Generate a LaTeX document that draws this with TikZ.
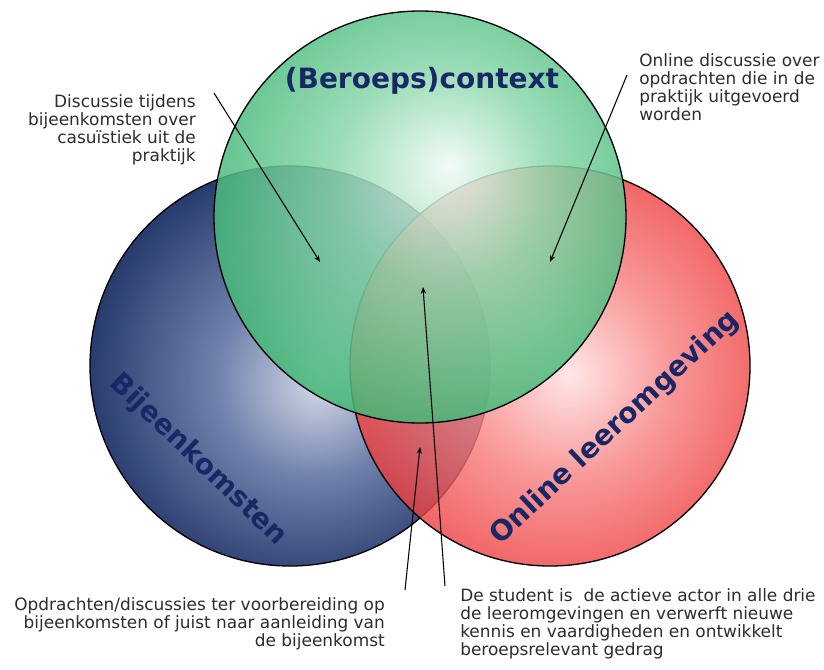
\documentclass[tikz,border=0pt]{standalone}
\usepackage{fontspec}
\setmainfont{DejaVu Sans}
\usetikzlibrary{arrows.meta}
\definecolor{labelblue}{RGB}{24,40,102}
\definecolor{notegray}{RGB}{45,45,45}
\definecolor{contextedge}{RGB}{58,180,112}
\definecolor{contextmid}{RGB}{140,216,172}
\definecolor{contexthi}{RGB}{240,251,244}
\definecolor{meetingsedge}{RGB}{34,54,104}
\definecolor{meetingsmid}{RGB}{112,130,172}
\definecolor{meetingshi}{RGB}{212,216,230}
\definecolor{onlineedge}{RGB}{236,50,50}
\definecolor{onlinemid}{RGB}{248,128,128}
\definecolor{onlinehi}{RGB}{255,224,224}
\pgfdeclareradialshading{contextball}{\pgfpoint{3.6bp}{6.3bp}}{color(0bp)=(contexthi); color(13bp)=(contextmid); color(30bp)=(contextedge); color(50bp)=(contextedge)}
\pgfdeclareradialshading{meetingsball}{\pgfpoint{3.7bp}{-2.4bp}}{color(0bp)=(meetingshi); color(12bp)=(meetingsmid); color(28bp)=(meetingsedge); color(50bp)=(meetingsedge)}
\pgfdeclareradialshading{onlineball}{\pgfpoint{2.5bp}{-1.1bp}}{color(0bp)=(onlinehi); color(13bp)=(onlinemid); color(28bp)=(onlineedge); color(50bp)=(onlineedge)}

\begin{document}
\begin{tikzpicture}[x=0.75pt, y=-0.75pt,
		venn/.style={circle, draw=black, line width=1pt, inner sep=0pt, shade},
		circlelabel/.style={font=\fontsize{21pt}{25pt}\selectfont\bfseries, text=labelblue, inner sep=0pt},
		note/.style={font=\fontsize{12.7pt}{13.7pt}\selectfont, text=notegray, inner sep=0pt},
		pointer/.style={draw=black, line width=0.8pt, -{Stealth[length=5pt, width=4pt]}}]
		\useasboundingbox (0,0) rectangle (824,669);
		\fill[white] (0,0) rectangle (824,669);
		\node[venn, minimum size=300pt, shading=meetingsball] (Meetings) at (290,366) {};
		\node[venn, minimum size=300pt, shading=onlineball, fill opacity=0.8] (Online) at (550,366) {};
		\node[venn, minimum size=309pt, shading=contextball, fill opacity=0.85] (Context) at (420,217) {};
		\node[circlelabel] (ContextLabel) at (422,81) {(Beroeps)context};
		\node[circlelabel, rotate=-44] (MeetingsLabel) at (198,460) {Bijeenkomsten};
		\node[circlelabel, rotate=43] (OnlineLabel) at (615,428) {Online leeromgeving};
		\node[note, align=right, anchor=north east] (NoteContextMeetings) at (196,94) {
			Discussie tijdens\\bijeenkomsten over\\casuïstiek uit de\\praktijk
		};
		\node[note, align=left, anchor=north west] (NoteContextOnline) at (639,53) {
			Online discussie over\\opdrachten die in de\\praktijk uitgevoerd\\worden
		};
		\node[note, align=right, anchor=north east] (NoteMeetingsOnline) at (385,597) {
			Opdrachten/discussies ter voorbereiding op\\bijeenkomsten of juist naar aanleiding van\\de bijeenkomst
		};
		\node[note, align=left, anchor=north west] (NoteCenter) at (460,588) {
			De student is \ de actieve actor in alle drie\\de leeromgevingen en verwerft nieuwe\\kennis en vaardigheden en ontwikkelt\\beroepsrelevant gedrag
		};
		\coordinate (ContextMeetingsTail) at (214,93);
		\coordinate (ContextMeetingsTip) at (320,262);
		\coordinate (ContextOnlineTail) at (627,75);
		\coordinate (ContextOnlineTip) at (550,262);
		\coordinate (MeetingsOnlineTail) at (405,590);
		\coordinate (MeetingsOnlineTip) at (420,447);
		\coordinate (CenterTail) at (445,586);
		\coordinate (CenterTip) at (423,287);
		\draw[pointer] (ContextMeetingsTail) -- (ContextMeetingsTip);
		\draw[pointer] (ContextOnlineTail) -- (ContextOnlineTip);
		\draw[pointer] (MeetingsOnlineTail) -- (MeetingsOnlineTip);
		\draw[pointer] (CenterTail) -- (CenterTip);
\end{tikzpicture}
\end{document}
